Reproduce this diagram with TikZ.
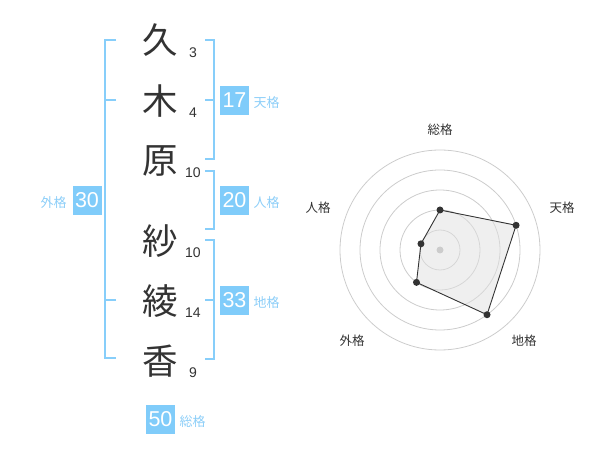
\documentclass[tikz,border=0pt]{standalone}
\usepackage{fontspec}
\usetikzlibrary{calc}
\setmainfont{Liberation Sans}
\newfontfamily\cjk{Noto Sans CJK JP}
\definecolor{brk}{RGB}{135,206,250}
\definecolor{boxc}{RGB}{128,204,250}
\definecolor{lbl}{RGB}{140,206,248}
\definecolor{ink}{RGB}{51,51,51}
\definecolor{ring}{RGB}{204,204,204}
\tikzset{
  kanji/.style={font=\cjk\fontsize{35.5}{36}\selectfont, text=ink, inner sep=0pt},
  strokes/.style={font=\fontsize{14}{14}\selectfont, text=ink, inner sep=0pt},
  valbox/.style={fill=boxc, text=white, minimum width=29pt, minimum height=29pt, inner sep=0pt, font=\fontsize{21.5}{22}\selectfont},
  bluelbl/.style={font=\cjk\fontsize{13}{13}\selectfont, text=lbl, inner sep=0pt},
  bracketline/.style={draw=brk, line width=2pt},
  axislbl/.style={font=\cjk\fontsize{12.5}{13}\selectfont, text=ink, inner sep=0pt},
  ringline/.style={draw=ring, line width=0.8pt},
  dotpt/.style={fill=ink, draw=none},
}
\begin{document}
\begin{tikzpicture}[x=1pt,y=-1pt]
\useasboundingbox (0,0) rectangle (600,470);
% kanji
\node[kanji] (k1) at (160,40) {久};
\node[kanji] (k2) at (160,101) {木};
\node[kanji] (k3) at (160,161) {原};
\node[kanji] (k4) at (160,241) {紗};
\node[kanji] (k5) at (160,301) {綾};
\node[kanji] (k6) at (160,361) {香};
% stroke counts
\node[strokes] (s1) at (193,53) {3};
\node[strokes] (s2) at (193,113) {4};
\node[strokes] (s3) at (193,173) {10};
\node[strokes] (s4) at (193,253) {10};
\node[strokes] (s5) at (193,313) {14};
\node[strokes] (s6) at (193,373) {9};
% brackets
\coordinate (gT) at (105,40); \coordinate (gB) at (105,358.5);
\draw[bracketline] (116,40) -- (gT) -- (gB) -- (116,358.5);
\draw[bracketline] (116,100) -- (105,100);
\draw[bracketline] (116,300) -- (105,300);
\draw[bracketline] (205,40) -- (214.3,40) -- (214.3,159.5) -- (205,159.5);
\draw[bracketline] (205,100) -- (214.3,100);
\draw[bracketline] (205,171) -- (214.3,171) -- (214.3,229.5) -- (205,229.5);
\draw[bracketline] (205,240.5) -- (214.3,240.5) -- (214.3,359) -- (205,359);
\draw[bracketline] (205,300) -- (214.3,300);
% value boxes
\node[valbox] (b17) at (234.5,100.5) {17};
\node[bluelbl, anchor=west] (l17) at (253.5,103) {天格};
\node[valbox] (b20) at (234.5,200.5) {20};
\node[bluelbl, anchor=west] (l20) at (253.5,203) {人格};
\node[valbox] (b33) at (234.5,300.5) {33};
\node[bluelbl, anchor=west] (l33) at (253.5,303) {地格};
\node[valbox] (b30) at (87,200.5) {30};
\node[bluelbl] (l30) at (53.5,203) {外格};
\node[valbox] (b50) at (160.5,419.5) {50};
\node[bluelbl, anchor=west] (l50) at (179.5,422) {総格};
% radar
\coordinate (c) at (440,250);
\foreach \r in {20,40,60,80,100} \draw[ringline] (c) circle (\r);
\coordinate (p1) at ($(c)+(-90:40)$);
\coordinate (p2) at ($(c)+(-18:80)$);
\coordinate (p3) at ($(c)+(54:80)$);
\coordinate (p4) at ($(c)+(126:40)$);
\coordinate (p5) at ($(c)+(198:20)$);
\draw[ink, line width=0.9pt, fill=black!12, fill opacity=0.5] (p1) -- (p2) -- (p3) -- (p4) -- (p5) -- cycle;
\fill[ring] (c) circle (3.5);
\foreach \p in {p1,p2,p3,p4,p5} \fill[dotpt] (\p) circle (3.5);
\node[axislbl] (a1) at (440,130) {総格};
\node[axislbl] (a2) at (562,208) {天格};
\node[axislbl] (a3) at (524,341) {地格};
\node[axislbl] (a4) at (352,341) {外格};
\node[axislbl] (a5) at (318,208) {人格};
\end{tikzpicture}
\end{document}
